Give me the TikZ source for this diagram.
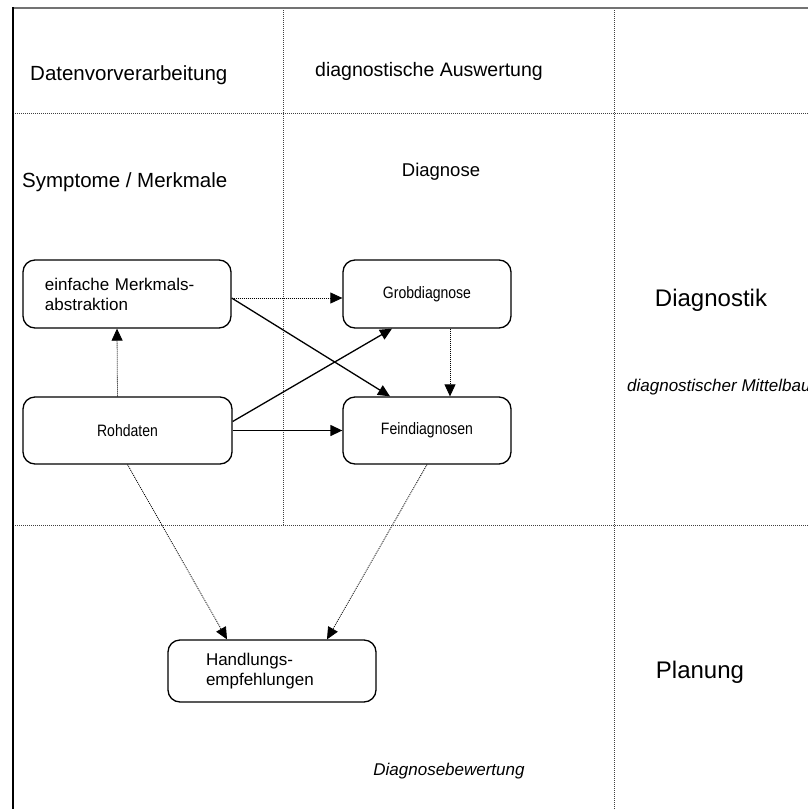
\documentclass[tikz,border=0pt]{standalone}
\usepackage{fontspec}
\setmainfont{Liberation Sans}
\newfontfamily\boxfont{Liberation Sans}[FakeStretch=0.85]
\usetikzlibrary{arrows.meta,calc}
\begin{document}
\begin{tikzpicture}[x=1pt,y=-1pt,
  grid/.style={draw=black!75,line width=0.7pt,dash pattern=on 1pt off 1pt},
  frame/.style={draw=black,line width=1.4pt},
  box/.style={draw=black,line width=1.3pt,rounded corners=12pt,font=\boxfont\fontsize{16.5}{19.5}\selectfont},
  box2/.style={box,font=\fontsize{17}{20}\selectfont,align=left},
  lbl/.style={font=\fontsize{20.5}{24}\selectfont,inner sep=0pt},
  big/.style={font=\fontsize{24}{28}\selectfont,inner sep=0pt},
  ital/.style={font=\fontsize{17}{20}\selectfont\itshape,inner sep=0pt},
  solidarrow/.style={draw=black,line width=1.3pt,-{Triangle[length=12pt,width=11pt]}},
  dotarrow/.style={draw=black,line width=0.8pt,dash pattern=on 1pt off 1pt,-{Triangle[length=12pt,width=11pt]}}
]
\clip (0,0) rectangle (808,809);
\fill[white] (0,0) rectangle (808,809);
% frame and grid
\draw[grid] (283,8) -- (283,525);
\draw[grid] (614,8) -- (614,809);
\draw[grid] (13,113) -- (808,113);
\draw[grid] (13,525) -- (808,525);
\draw[frame,draw=black!55] (13,8) -- (808,8);
\draw[frame] (13,809) -- (13,7.3);
% labels
\node[lbl,anchor=west] (t1) at (30,75) {Datenvorverarbeitung};
\node[lbl,font=\fontsize{19.5}{24}\selectfont] (t2) at (429,71) {diagnostische Auswertung};
\node[lbl,anchor=west] (t3) at (22,182) {Symptome / Merkmale};
\node[lbl,font=\fontsize{18.5}{24}\selectfont] (t4) at (441,172) {Diagnose};
\node[big] (t5) at (711,300) {Diagnostik};
\node[ital,anchor=west] (t6) at (627,387) {diagnostischer Mittelbau};
\node[big] (t7) at (700,672) {Planung};
\node[ital] (t8) at (449,771) {Diagnosebewertung};
% boxes
\node[box2,text width=164pt,inner xsep=22pt,minimum height=68pt] (einf) at (127,294) {einfache Merkmals-\\abstraktion};
\node[box,minimum width=209pt,minimum height=67pt] (roh) at (127.5,430.5) {Rohdaten};
\node[box,minimum width=168pt,minimum height=68pt] (grob) at (427,294) {Grobdiagnose};
\node[box,minimum width=168pt,minimum height=67pt] (fein) at (427,430.5) {Feindiagnosen};
\node[box2,text width=132pt,inner xsep=38pt,minimum height=62pt] (hand) at (272,671) {Handlungs-\\empfehlungen};
% connectors
\draw[dotarrow] ([xshift=-10pt]roh.north) -- ([xshift=-10pt]einf.south);
\draw[dotarrow] ([yshift=-4pt]einf.east) -- ([yshift=-4pt]grob.west);
\draw[solidarrow] ([yshift=-4pt]einf.east) -- ([xshift=-37pt]fein.north);
\draw[solidarrow] ([yshift=9pt]roh.east) -- ([xshift=-35pt]grob.south);
\draw[solidarrow] (roh.east) -- (fein.west);
\draw[dotarrow] ([xshift=23pt]grob.south) -- ([xshift=23pt]fein.north);
\draw[dotarrow] (roh.south) -- ([xshift=-45pt]hand.north);
\draw[dotarrow] (fein.south) -- ([xshift=55pt]hand.north);
\end{tikzpicture}
\end{document}
